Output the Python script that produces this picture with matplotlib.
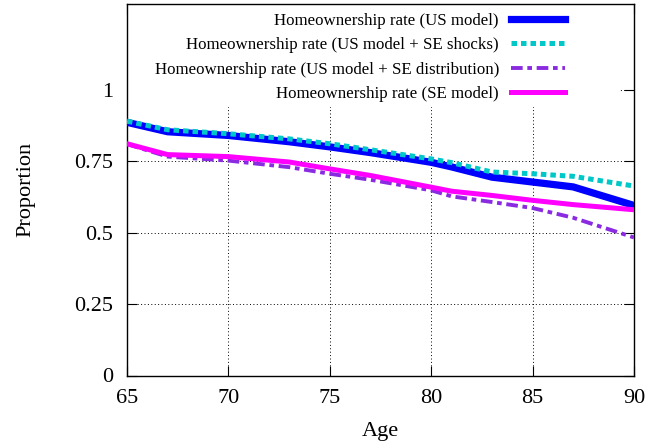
"""homeownership rate by age, gnuplot-like look"""
import matplotlib
matplotlib.use("Agg")
import matplotlib.pyplot as plt
import matplotlib.patches as patches

plt.rcParams["font.family"] = ["Liberation Serif", "DejaVu Serif"]

# data
ages = [65, 67, 70, 73, 75, 77, 80, 81, 83, 85, 87, 90]
us_model = [0.886, 0.853, 0.840, 0.818, 0.800, 0.780, 0.746, 0.730, 0.694, 0.677, 0.660, 0.595]
us_se_shocks = [0.890, 0.860, 0.846, 0.828, 0.811, 0.790, 0.758, 0.745, 0.712, 0.706, 0.697, 0.663]
us_se_distribution = [0.810, 0.766, 0.752, 0.729, 0.706, 0.685, 0.648, 0.627, 0.607, 0.586, 0.552, 0.483]
se_model = [0.811, 0.773, 0.766, 0.747, 0.723, 0.700, 0.659, 0.645, 0.630, 0.613, 0.598, 0.580]

labels = [
    "Homeownership rate (US model)",
    "Homeownership rate (US model + SE shocks)",
    "Homeownership rate (US model + SE distribution)",
    "Homeownership rate (SE model)",
]
xticks = [65, 70, 75, 80, 85, 90]
yticks = [0, 0.25, 0.5, 0.75, 1]
ytick_labels = ["0", "0.25", "0.5", "0.75", "1"]

fig = plt.figure(figsize=(6.61, 4.46), dpi=100)
ax = fig.add_axes([127 / 661, 70.5 / 446, 507 / 661, 371.5 / 446])

ax.plot(ages, us_model, color="#0000ff", lw=5.2, label=labels[0], zorder=3)
ax.plot(ages, us_se_shocks, color="#00c8c8", lw=3.6, ls=(0, (1.1, 0.8)),
        dash_capstyle="butt", label=labels[1], zorder=4)
ax.plot(ages, us_se_distribution, color="#8a2be2", lw=2.8, ls=(0, (3.0, 1.2, 1.2, 1.2)),
        dash_capstyle="butt", label=labels[2], zorder=5)
ax.plot(ages, se_model, color="#ff00ff", lw=3.6, label=labels[3], zorder=6)

ax.set_xlim(65, 90)
ax.set_ylim(0, 1.3)
ax.set_xticks(xticks)
ax.set_yticks(yticks)
ax.set_yticklabels(ytick_labels)
ax.tick_params(direction="in", top=True, right=True, length=7, width=0.8,
               labelsize=16, pad=10)
ax.set_axisbelow(True)
ax.grid(True, color="black", ls=(0, (1, 2.5)), lw=0.7)
for sp in ax.spines.values():
    sp.set_linewidth(1.0)

# opaque key background, like gnuplot's "set key opaque"
key_bg = patches.Rectangle((0, 0.723), 0.972, 0.3, transform=ax.transAxes,
                           facecolor="white", edgecolor="none", zorder=1)
ax.add_patch(key_bg)

ax.legend(loc="upper right", bbox_to_anchor=(0.864, 0.975), markerfirst=False,
          frameon=False, fontsize=12.2, handlelength=3.2, handletextpad=0.7,
          labelspacing=0.48, borderpad=0, borderaxespad=0)

ax.set_xlabel("Age", fontsize=16, labelpad=10)
ax.set_ylabel("Proportion", fontsize=16, labelpad=28)

fig.savefig("out.png", dpi=100)
